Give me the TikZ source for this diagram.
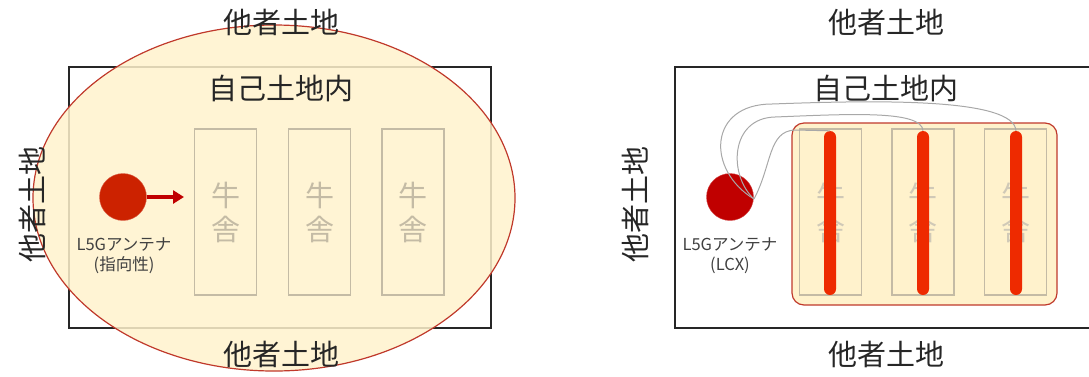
\documentclass[tikz,border=0pt]{standalone}
\usepackage{fontspec}
\setmainfont{Noto Sans CJK JP}
\usetikzlibrary{arrows.meta}
\definecolor{landfill}{HTML}{FFF2CC}
\definecolor{redline}{HTML}{C0392B}
\definecolor{barngray}{HTML}{C4BBA5}
\definecolor{antA}{HTML}{CC2200}
\definecolor{antB}{HTML}{C00000}
\definecolor{barred}{HTML}{EE2A00}
\definecolor{cablegray}{HTML}{A8A8A8}
\tikzset{
  big/.style={inner sep=0pt, font=\fontsize{29}{31}\selectfont, text=black!85},
  small/.style={inner sep=0pt, font=\fontsize{16.5}{20}\selectfont, text=black!75, align=center},
  barn/.style={draw=barngray, line width=1.3pt, minimum width=62pt, minimum height=166pt, inner sep=0pt},
  barntext/.style={inner sep=0pt, font=\fontsize{29}{34}\selectfont, text=barngray, align=center},
  lcx/.style={fill=barred, rounded corners=6pt, minimum width=12pt, minimum height=164pt, inner sep=0pt},
  cable/.style={draw=cablegray, line width=1pt},
  land/.style={draw=black!85, line width=1.3pt}
}
\begin{document}
\begin{tikzpicture}[x=1pt,y=-1pt]
\useasboundingbox (0,0) rectangle (1089,376);
% ---------- left panel ----------
\draw[land] (69,67) rectangle (491,328);
\fill[landfill, fill opacity=0.85] (274,198) ellipse [x radius=241pt, y radius=173pt];
\draw[redline, line width=1.2pt] (274,198) ellipse [x radius=241pt, y radius=173pt];
\node[big] (tl) at (281,22) {他者土地};
\node[big] (bl) at (281,354) {他者土地};
\node[big, rotate=90] (ll) at (32,204) {他者土地};
\node[big] (il) at (281,88) {自己土地内};
\node[barn] (b1) at (225.5,212) {};
\node[barn] (b2) at (319.5,212) {};
\node[barn] (b3) at (413,212) {};
\node[barntext] at (b1) {牛\\舎};
\node[barntext] at (b2) {牛\\舎};
\node[barntext] at (b3) {牛\\舎};
\node[circle, fill=antA, draw=antA!70, minimum size=47pt, inner sep=0pt] (antL) at (123,197) {};
\coordinate (beam) at (184,197);
\draw[antB, line width=3.5pt, -{Triangle[length=11pt,width=13pt]}] (antL.east) -- (beam);
\node[small] (labL) at (124,256) {L5Gアンテナ\\(指向性)};
% ---------- right panel ----------
\draw[land] (675,67) rectangle (1095,328);
\node[big] (tr) at (886,22) {他者土地};
\node[big] (br) at (886,354) {他者土地};
\node[big, rotate=90] (lr) at (635,204) {他者土地};
\node[big] (ir) at (886,88) {自己土地内};
\node[draw=redline, fill=landfill, line width=1.2pt, rounded corners=12pt, minimum width=265pt, minimum height=182pt, inner sep=0pt] (area) at (924.5,214) {};
\node[barn] (c1) at (830.5,212) {};
\node[barn] (c2) at (923,212) {};
\node[barn] (c3) at (1015.5,212) {};
\node[barntext, text=barngray!80] at (c1) {牛\\舎};
\node[barntext, text=barngray!80] at (c2) {牛\\舎};
\node[barntext, text=barngray!80] at (c3) {牛\\舎};
\node[lcx] (x1) at (830,213) {};
\node[lcx] (x2) at (923,213) {};
\node[lcx] (x3) at (1016,213) {};
\node[circle, fill=antB, draw=antB!70, minimum size=47pt, inner sep=0pt] (antR) at (730,197) {};
\coordinate (feed) at (754,199);
\draw[cable] (feed) .. controls (772,165) and (768,131) .. (795,130) -- (x1.north);
\draw[cable] (feed) .. controls (728,175) and (730,118) .. (775,117) .. controls (850,114) and (922,110) .. (x2.north);
\draw[cable] (feed) .. controls (706,170) and (708,104) .. (772,104) .. controls (880,100) and (1014,98) .. (x3.north);
\node[small] (labR) at (730,256) {L5Gアンテナ\\(LCX)};
\end{tikzpicture}
\end{document}
